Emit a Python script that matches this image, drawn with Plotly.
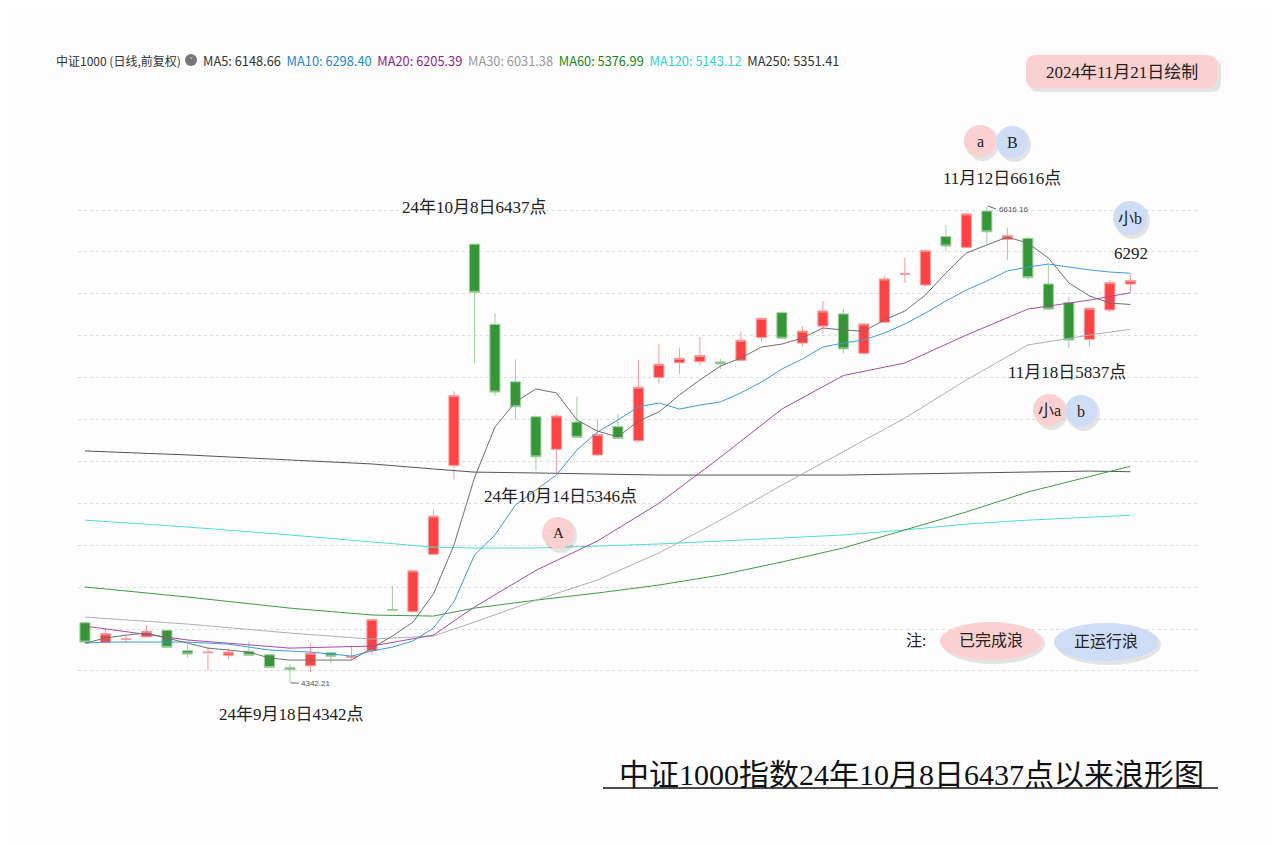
import plotly.graph_objects as go

# ---------------- data ----------------
dates = ["09-02", "09-03", "09-04", "09-05", "09-06", "09-09", "09-10", "09-11", "09-12", "09-13",
         "09-18", "09-19", "09-20", "09-23", "09-24", "09-25", "09-26", "09-27", "09-30", "10-08",
         "10-09", "10-10", "10-11", "10-14", "10-15", "10-16", "10-17", "10-18", "10-21", "10-22",
         "10-23", "10-24", "10-25", "10-28", "10-29", "10-30", "10-31", "11-01", "11-04", "11-05",
         "11-06", "11-07", "11-08", "11-11", "11-12", "11-13", "11-14", "11-15", "11-18", "11-19",
         "11-20", "11-21"]
opens = [4630, 4535, 4550, 4563, 4594, 4497, 4487, 4475, 4494, 4477,
         4417, 4425, 4487, 4465, 4497, 4693, 4683, 4957, 5381, 6437,
         6054, 5780, 5613, 5458, 5588, 5431, 5566, 5499, 5801, 5871,
         5876, 5875, 5883, 5992, 6110, 5965, 6046, 6104, 5916, 6064,
         6293, 6242, 6473, 6422, 6595, 6460, 6465, 6247, 6159, 5983,
         6123, 6247]
highs = [4638, 4605, 4570, 4619, 4599, 4528, 4511, 4506, 4544, 4480,
         4432, 4532, 4490, 4517, 4648, 4805, 4880, 5168, 5736, 6437,
         6107, 5887, 5620, 5625, 5709, 5602, 5626, 5884, 5959, 5943,
         5995, 5890, 6019, 6086, 6118, 6046, 6166, 6127, 6060, 6285,
         6372, 6410, 6528, 6585, 6616.16, 6516, 6473, 6337, 6186, 6135,
         6266, 6295]
lows = [4535, 4533, 4535, 4561, 4511, 4465, 4404, 4457, 4473, 4415,
        4342.21, 4394, 4436, 4450, 4476, 4688, 4680, 4954, 5315, 5868,
        5712, 5601, 5356, 5346, 5512, 5428, 5508, 5489, 5773, 5817,
        5860, 5841, 5880, 5971, 5985, 5948, 6011, 5916, 5913, 6060,
        6252, 6235, 6404, 6418, 6436, 6361, 6268, 6125, 5940, 5948,
        6112, 6207]
closes = [4538, 4578, 4553, 4589, 4513, 4481, 4490, 4490, 4475, 4417,
          4406, 4484, 4470, 4470, 4646, 4690, 4878, 5139, 5714, 6207,
          5731, 5661, 5422, 5617, 5515, 5529, 5510, 5754, 5864, 5892,
          5906, 5866, 5978, 6083, 5988, 6022, 6118, 5937, 6056, 6271,
          6297, 6406, 6428, 6581, 6496, 6477, 6277, 6127, 5979, 6131,
          6253, 6263]

ma5 = [4533, 4557, 4571, 4581, 4557, 4533, 4509, 4500, 4490, 4462,
       4452, 4452, 4452, 4452, 4509, 4567, 4633, 4767, 5001, 5321,
       5564, 5684, 5746, 5727, 5598, 5545, 5517, 5593, 5636, 5717,
       5789, 5855, 5894, 5946, 5960, 5989, 6037, 6027, 6022, 6075,
       6118, 6194, 6299, 6395, 6433, 6471, 6442, 6371, 6252, 6190,
       6156, 6149]
ma10 = [4533, 4538, 4538, 4538, 4538, 4538, 4533, 4528, 4514, 4500,
        4495, 4490, 4481, 4471, 4495, 4514, 4543, 4605, 4729, 4953,
        5049, 5192, 5264, 5335, 5455, 5540, 5598, 5660, 5679, 5650,
        5669, 5684, 5727, 5779, 5841, 5889, 5946, 5965, 5980, 6013,
        6056, 6108, 6166, 6218, 6261, 6309, 6328, 6342, 6328, 6314,
        6304, 6298]
slow_idx = [0, 5, 10, 14, 17, 19, 22, 25, 28, 31, 34, 37, 40, 43, 46, 49, 51]
ma20 = [4614, 4548, 4509, 4519, 4571, 4705, 4880, 5020, 5200, 5420, 5650, 5810, 5870, 6003, 6127, 6170, 6205]
ma30 = [4657, 4624, 4581, 4552, 4567, 4633, 4738, 4834, 4963, 5120, 5287, 5445, 5607, 5789, 5956, 6003, 6031]
ma60 = [4801, 4753, 4700, 4667, 4662, 4700, 4738, 4772, 4810, 4858, 4920, 4987, 5073, 5159, 5254, 5326, 5377]
ma120 = [5120, 5087, 5049, 5015, 4991, 4987, 4987, 4996, 5006, 5020, 5034, 5049, 5073, 5101, 5120, 5135, 5143]
ma250 = [5450, 5431, 5407, 5388, 5364, 5349, 5345, 5340, 5335, 5335, 5335, 5335, 5340, 5345, 5349, 5354, 5351]

legend_vals = {"MA5": "6148.66", "MA10": "6298.40", "MA20": "6205.39", "MA30": "6031.38",
               "MA60": "5376.99", "MA120": "5143.12", "MA250": "5351.41"}
grid_vals = [4400, 4600, 4800, 5000, 5200, 5400, 5600, 5800, 6000, 6200, 6400, 6600]

# ---------------- layout helpers ----------------
PAGE_W, PAGE_H = 1273, 844
BODY = 8                      # default body margin of the html page
L, R, T, B = 78, 1198, 100, 720   # plot area in page pixels
PW, PH = R - L, B - T
SERIF = "Liberation Serif, Noto Sans CJK SC, serif"
SANS = "Noto Sans CJK SC, Noto Sans, sans-serif"
PINK = "#fbd0d0"
BLUE = "#cfdcf6"


def px(x):
    return (x - L) / PW


def py(y):
    return (B - y) / PH


fig = go.Figure()

fig.add_trace(go.Candlestick(
    x=dates, open=opens, high=highs, low=lows, close=closes,
    increasing=dict(line=dict(color="#f99a9a", width=1), fillcolor="#fb4343"),
    decreasing=dict(line=dict(color="#9fd09f", width=1), fillcolor="#349634"),
    showlegend=False, hoverinfo="skip",
))

slow_dates = [dates[i] for i in slow_idx]
lines = [
    (slow_dates, ma250, "#555555"),
    (slow_dates, ma120, "#4fdcdc"),
    (slow_dates, ma60, "#3d9d3d"),
    (slow_dates, ma30, "#b0b0b0"),
    (slow_dates, ma20, "#a64ca6"),
    (dates, ma10, "#3d9be6"),
    (dates, ma5, "#707070"),
]
for xs, ys, col in lines:
    fig.add_trace(go.Scatter(x=xs, y=ys, mode="lines", line=dict(color=col, width=1),
                             showlegend=False, hoverinfo="skip"))

shapes = []
annotations = []


def shadow_circle(cx, cy, r, fill):
    shapes.append(dict(type="circle", xref="paper", yref="paper",
                       x0=px(cx - r + 2), x1=px(cx + r + 3), y0=py(cy + r + 4), y1=py(cy - r + 1),
                       fillcolor="rgba(0,0,0,0.10)", line=dict(width=0)))
    shapes.append(dict(type="circle", xref="paper", yref="paper",
                       x0=px(cx - r), x1=px(cx + r), y0=py(cy + r), y1=py(cy - r),
                       fillcolor=fill, line=dict(width=0)))


def ellipse(cx, cy, rx, ry, fill):
    shapes.append(dict(type="circle", xref="paper", yref="paper",
                       x0=px(cx - rx + 2), x1=px(cx + rx + 3), y0=py(cy + ry + 4), y1=py(cy - ry + 1),
                       fillcolor="rgba(0,0,0,0.10)", line=dict(width=0)))
    shapes.append(dict(type="circle", xref="paper", yref="paper",
                       x0=px(cx - rx), x1=px(cx + rx), y0=py(cy + ry), y1=py(cy - ry),
                       fillcolor=fill, line=dict(width=0)))


def text(x, y, s, size, color="#222222", family=SERIF, xanchor="center"):
    annotations.append(dict(x=px(x), y=py(y), xref="paper", yref="paper", text=s,
                            showarrow=False, xanchor=xanchor, yanchor="middle",
                            font=dict(size=size, color=color, family=family)))


def rounded_rect(x0, y0, x1, y1, r):
    def p(x, y):
        return f"{px(x)},{py(y)}"
    return (f"M {p(x0 + r, y0)} L {p(x1 - r, y0)} Q {p(x1, y0)} {p(x1, y0 + r)} "
            f"L {p(x1, y1 - r)} Q {p(x1, y1)} {p(x1 - r, y1)} L {p(x0 + r, y1)} "
            f"Q {p(x0, y1)} {p(x0, y1 - r)} L {p(x0, y0 + r)} Q {p(x0, y0)} {p(x0 + r, y0)} Z")


# date box
shapes.append(dict(type="path", xref="paper", yref="paper",
                   path=rounded_rect(1029, 58, 1221, 92, 10), fillcolor="rgba(0,0,0,0.10)",
                   line=dict(width=0)))
shapes.append(dict(type="path", xref="paper", yref="paper",
                   path=rounded_rect(1026, 55, 1217, 88, 10), fillcolor=PINK, line=dict(width=0)))
text(1122, 72, "2024年11月21日绘制", 17)

# wave circles
shadow_circle(980, 141, 16, PINK)
shadow_circle(1012, 142, 16, BLUE)
text(980, 141, "a", 16)
text(1012, 142, "B", 16)
shadow_circle(1130, 218, 17, BLUE)
text(1130, 218, "小b", 16)
shadow_circle(1049, 410, 16, PINK)
shadow_circle(1081, 411, 16, BLUE)
text(1049, 410, "小a", 16)
text(1081, 411, "b", 16)
shadow_circle(558, 533, 16, PINK)
text(558, 533, "A", 15)

# notes legend
text(916, 640, "注:", 16)
ellipse(991, 641, 51, 19, PINK)
text(991, 640, "已完成浪", 16)
ellipse(1106, 642, 52, 19, BLUE)
text(1106, 641, "正运行浪", 16)

# point labels
text(474, 207, "24年10月8日6437点", 17)
text(560, 496, "24年10月14日5346点", 17)
text(1002, 178, "11月12日6616点", 17)
text(1131, 253, "6292", 17)
text(1067, 372, "11月18日5837点", 17)
text(291, 714, "24年9月18日4342点", 17)

# max / min markers
shapes.append(dict(type="line", xref="paper", yref="paper", x0=px(988), x1=px(996),
                   y0=py(206), y1=py(209), line=dict(color="#666666", width=1)))
text(997, 209, "6616.16", 8, color="#555555", family="Liberation Sans, sans-serif", xanchor="left")
shapes.append(dict(type="line", xref="paper", yref="paper", x0=px(291), x1=px(299),
                   y0=py(683), y1=py(683), line=dict(color="#666666", width=1)))
text(299, 683, "4342.21", 8, color="#555555", family="Liberation Sans, sans-serif", xanchor="left")

# title with underline
text(911, 774, "中证1000指数24年10月8日6437点以来浪形图", 30, color="#111111")
shapes.append(dict(type="line", xref="paper", yref="paper", x0=px(603), x1=px(1218),
                   y0=py(788), y1=py(788), line=dict(color="#111111", width=1.5)))

# header legend
text(54, 60, "中证1000 (日线,前复权)", 12, color="#333333", family=SANS, xanchor="left")
shapes.append(dict(type="circle", xref="paper", yref="paper", x0=px(185), x1=px(197),
                   y0=py(66), y1=py(54), fillcolor="#777777", line=dict(width=0)))
text(191, 60, "˅", 9, color="#ffffff", family=SANS)
hdr_colors = {"MA5": "#333333", "MA10": "#1f86df", "MA20": "#8e1c8e", "MA30": "#999999",
              "MA60": "#178a17", "MA120": "#2fd3d3", "MA250": "#333333"}
hdr = "  ".join(f"<span style='color:{hdr_colors[k]}'>{k}: {v}</span>" for k, v in legend_vals.items())
text(201, 60, hdr, 12.8, family=SANS, xanchor="left")

fig_w, fig_h = PAGE_W - BODY, PAGE_H - BODY
fig.update_layout(
    width=fig_w, height=fig_h,
    margin=dict(l=L - BODY, r=fig_w - (R - BODY), t=T - BODY, b=fig_h - (B - BODY)),
    paper_bgcolor="#fdfdfd", plot_bgcolor="#fdfdfd",
    showlegend=False,
    shapes=shapes, annotations=annotations,
    xaxis=dict(type="category", range=[-0.34, 54.3], showticklabels=False, showgrid=False,
               zeroline=False, showline=False, rangeslider=dict(visible=False), fixedrange=True),
    yaxis=dict(range=[4166, 7125], tickvals=grid_vals, showticklabels=False, showgrid=True,
               gridcolor="#dddddd", griddash="dot", gridwidth=1, zeroline=False, showline=False,
               fixedrange=True),
    hovermode=False,
)

fig.write_html("out.html", config={"displayModeBar": False})
